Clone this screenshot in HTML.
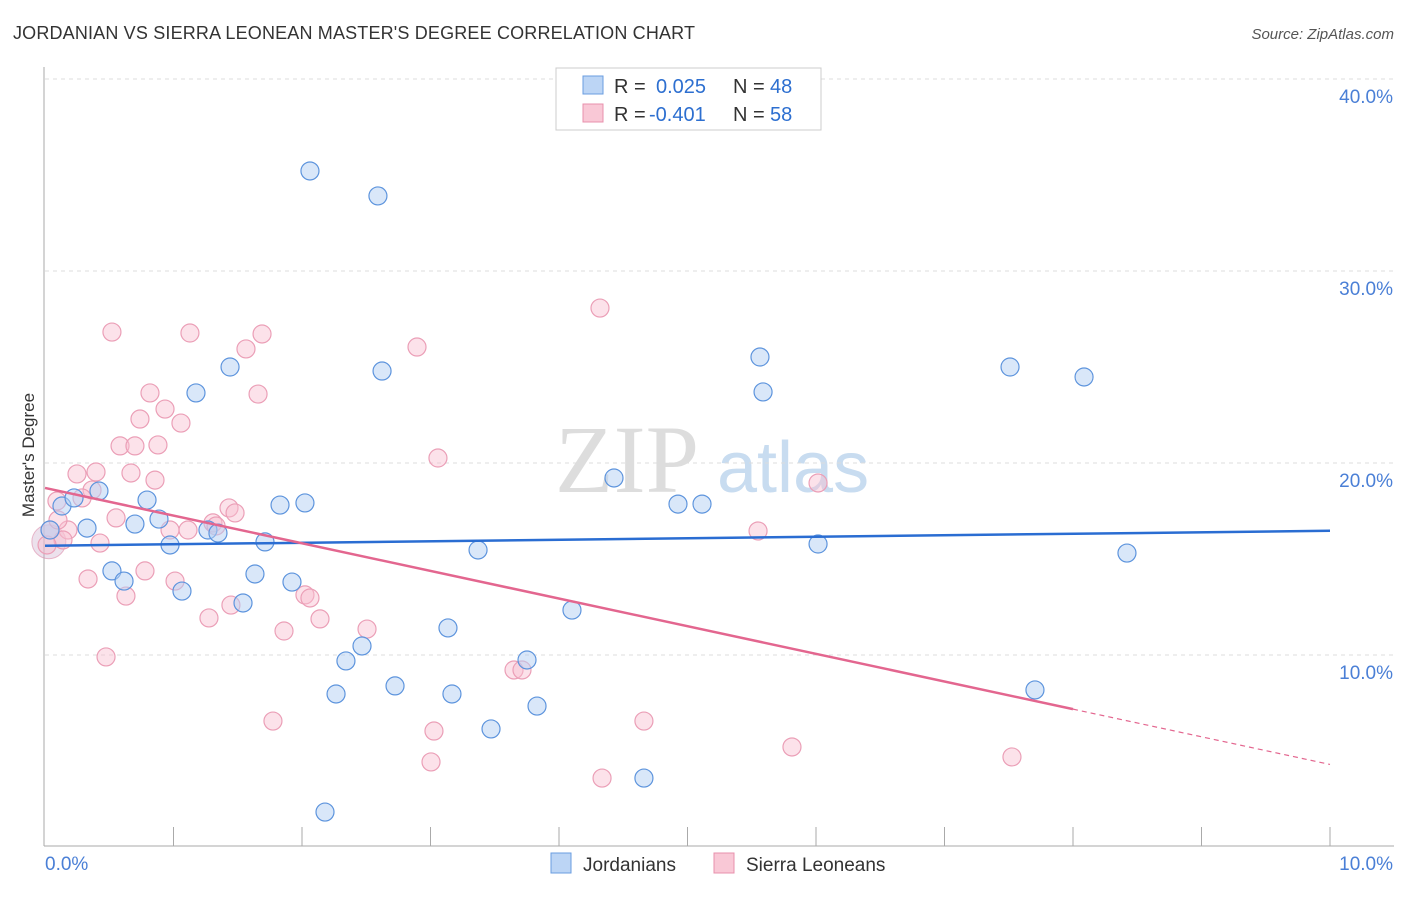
<!DOCTYPE html>
<html><head><meta charset="utf-8"><style>
body{margin:0;background:#fff;font-family:"Liberation Sans",sans-serif}
</style></head><body>
<svg id="chart" width="1406" height="892" xmlns="http://www.w3.org/2000/svg">
<text x="13" y="39" font-size="18" fill="#333" textLength="682">JORDANIAN VS SIERRA LEONEAN MASTER'S DEGREE CORRELATION CHART</text>
<text x="1394" y="39" font-size="15" fill="#555" font-style="italic" text-anchor="end">Source: ZipAtlas.com</text>
<text x="34" y="455" font-size="17" fill="#333" transform="rotate(-90 34 455)" text-anchor="middle">Master's Degree</text>
<text x="555" y="492" font-size="96" fill="#ddd" font-family="Liberation Serif,serif">ZIP</text>
<text x="717" y="492" font-size="72" fill="#c8dcf0">atlas</text>
<g id="grid"></g><g id="pts"></g><g id="lines"></g>
<g>
<rect x="556" y="68" width="265" height="62" fill="#fff" stroke="#ccc"/>
<rect x="583" y="76" width="20" height="18" fill="#bcd5f5" stroke="#6a9de0"/>
<rect x="583" y="104" width="20" height="18" fill="#f9c8d6" stroke="#e890ac"/>
<text x="614" y="93" font-size="20" fill="#333">R =</text>
<text x="656" y="93" font-size="20" fill="#2d6fd0">0.025</text>
<text x="733" y="93" font-size="20" fill="#333">N =</text>
<text x="770" y="93" font-size="20" fill="#2d6fd0">48</text>
<text x="614" y="121" font-size="20" fill="#333">R =</text>
<text x="649" y="121" font-size="20" fill="#2d6fd0">-0.401</text>
<text x="733" y="121" font-size="20" fill="#333">N =</text>
<text x="770" y="121" font-size="20" fill="#2d6fd0">58</text>
</g>
<g>
<rect x="551" y="853" width="20" height="20" fill="#bcd5f5" stroke="#6a9de0"/>
<text x="583" y="871" font-size="19" fill="#333">Jordanians</text>
<rect x="714" y="853" width="20" height="20" fill="#f9c8d6" stroke="#e890ac"/>
<text x="746" y="871" font-size="19" fill="#333">Sierra Leoneans</text>
</g>
</svg>
<script>
const yTicks=[10,20,30,40];
const yTickLabels=["10.0%","20.0%","30.0%","40.0%"];
const xTickLabels=["0.0%","10.0%"];
const blueXY=[[310,171],[378,196],[230,367],[382,371],[196,393],[760,357],[763,392],[1010,367],[1084,377],[99,491],[62,506],[147,500],[74,498],[280,505],[305,503],[614,478],[678,504],[702,504],[135,524],[159,519],[87,528],[208,530],[218,533],[50,530],[170,545],[265,542],[478,550],[818,544],[1127,553],[112,571],[124,581],[182,591],[255,574],[243,603],[292,582],[572,610],[448,628],[362,646],[346,661],[527,660],[336,694],[395,686],[452,694],[491,729],[537,706],[1035,690],[644,778],[325,812]];
const pinkXY=[[112,332],[190,333],[262,334],[246,349],[417,347],[600,308],[150,393],[258,394],[165,409],[140,419],[181,423],[120,446],[135,446],[158,445],[438,458],[77,474],[96,472],[131,473],[155,480],[92,490],[82,498],[57,501],[68,530],[63,540],[100,543],[116,518],[229,508],[235,513],[213,523],[216,526],[170,530],[188,530],[818,483],[758,531],[145,571],[88,579],[126,596],[175,581],[209,618],[231,605],[284,631],[305,595],[310,598],[320,619],[367,629],[106,657],[514,670],[522,670],[273,721],[434,731],[431,762],[644,721],[602,778],[792,747],[1012,757],[47,545],[50,530],[58,520]];
const toVal=p=>[+((p[0]-45)/128.5).toFixed(3),+((847-p[1])/19.2).toFixed(2)];
const blueX=blueXY.map(p=>toVal(p)[0]), blueY=blueXY.map(p=>toVal(p)[1]);
const pinkX=pinkXY.map(p=>toVal(p)[0]), pinkY=pinkXY.map(p=>toVal(p)[1]);
const blueTrend=[15.69,16.47];
const pinkTrend=[18.7,4.3];
const X=v=>45+v*128.5, Y=v=>847-v*19.2;
const NS="http://www.w3.org/2000/svg";
function mk(t,a,p){const e=document.createElementNS(NS,t);for(const k in a)e.setAttribute(k,a[k]);p.appendChild(e);return e;}
const g=document.getElementById('grid');
yTicks.forEach((v,i)=>{
 const l=mk('line',{x1:45,x2:1394,y1:Y(v),y2:Y(v),stroke:'#ddd','stroke-dasharray':'4,4'},g);
 
 
 const t=mk('text',{x:1393,y:Y(v)+24,'font-size':19,fill:'#4a7fd6','text-anchor':'end'},g);t.textContent=yTickLabels[i];
 
 
});
mk('line',{x1:45,x2:1394,y1:Y(40),y2:Y(40),stroke:'#ddd','stroke-dasharray':'4,4'},g);
const ax=mk('line',{x1:44,x2:44,y1:67,y2:846,stroke:'#aaa'},g);


const bx=mk('line',{x1:44,x2:1394,y1:846,y2:846,stroke:'#aaa'},g);


for(let i=1;i<=10;i++){mk('line',{x1:X(i),x2:X(i),y1:827,y2:846,stroke:'#aaa'},g);}
[[0,'start'],[10,'end']].forEach((d,i)=>{const t=mk('text',{x:i?1393:45,y:870,'font-size':19,fill:'#4a7fd6','text-anchor':d[1]},g);t.textContent=xTickLabels[i];
 
 });
const pg=document.getElementById('pts');
mk('circle',{cx:X(0.03),cy:Y(15.9),r:17,fill:'rgba(200,170,200,0.35)',stroke:'rgba(220,140,170,0.6)'},pg);
pinkX.forEach((x,i)=>{const c=mk('circle',{cx:X(x),cy:Y(pinkY[i]),r:9,fill:'rgba(248,190,208,0.45)',stroke:'#eb9fb7','stroke-width':1.2},pg);
 
 });
blueX.forEach((x,i)=>{const c=mk('circle',{cx:X(x),cy:Y(blueY[i]),r:9,fill:'rgba(180,208,243,0.5)',stroke:'#5d94dd','stroke-width':1.2},pg);
 
 });
const lg=document.getElementById('lines');
const bl=mk('line',{x1:X(0),y1:Y(blueTrend[0]),x2:X(10),y2:Y(blueTrend[1]),stroke:'#2a6dd2','stroke-width':2.5},lg);


const py=x=>pinkTrend[0]+(pinkTrend[1]-pinkTrend[0])*x/10;
const pl=mk('line',{x1:X(0),y1:Y(py(0)),x2:X(8),y2:Y(py(8)),stroke:'#e3668f','stroke-width':2.5},lg);


const pd=mk('line',{x1:X(8),y1:Y(py(8)),x2:X(10),y2:Y(py(10)),stroke:'#e3668f','stroke-width':1.2,'stroke-dasharray':'5,4'},lg);


</script>
</body></html>
